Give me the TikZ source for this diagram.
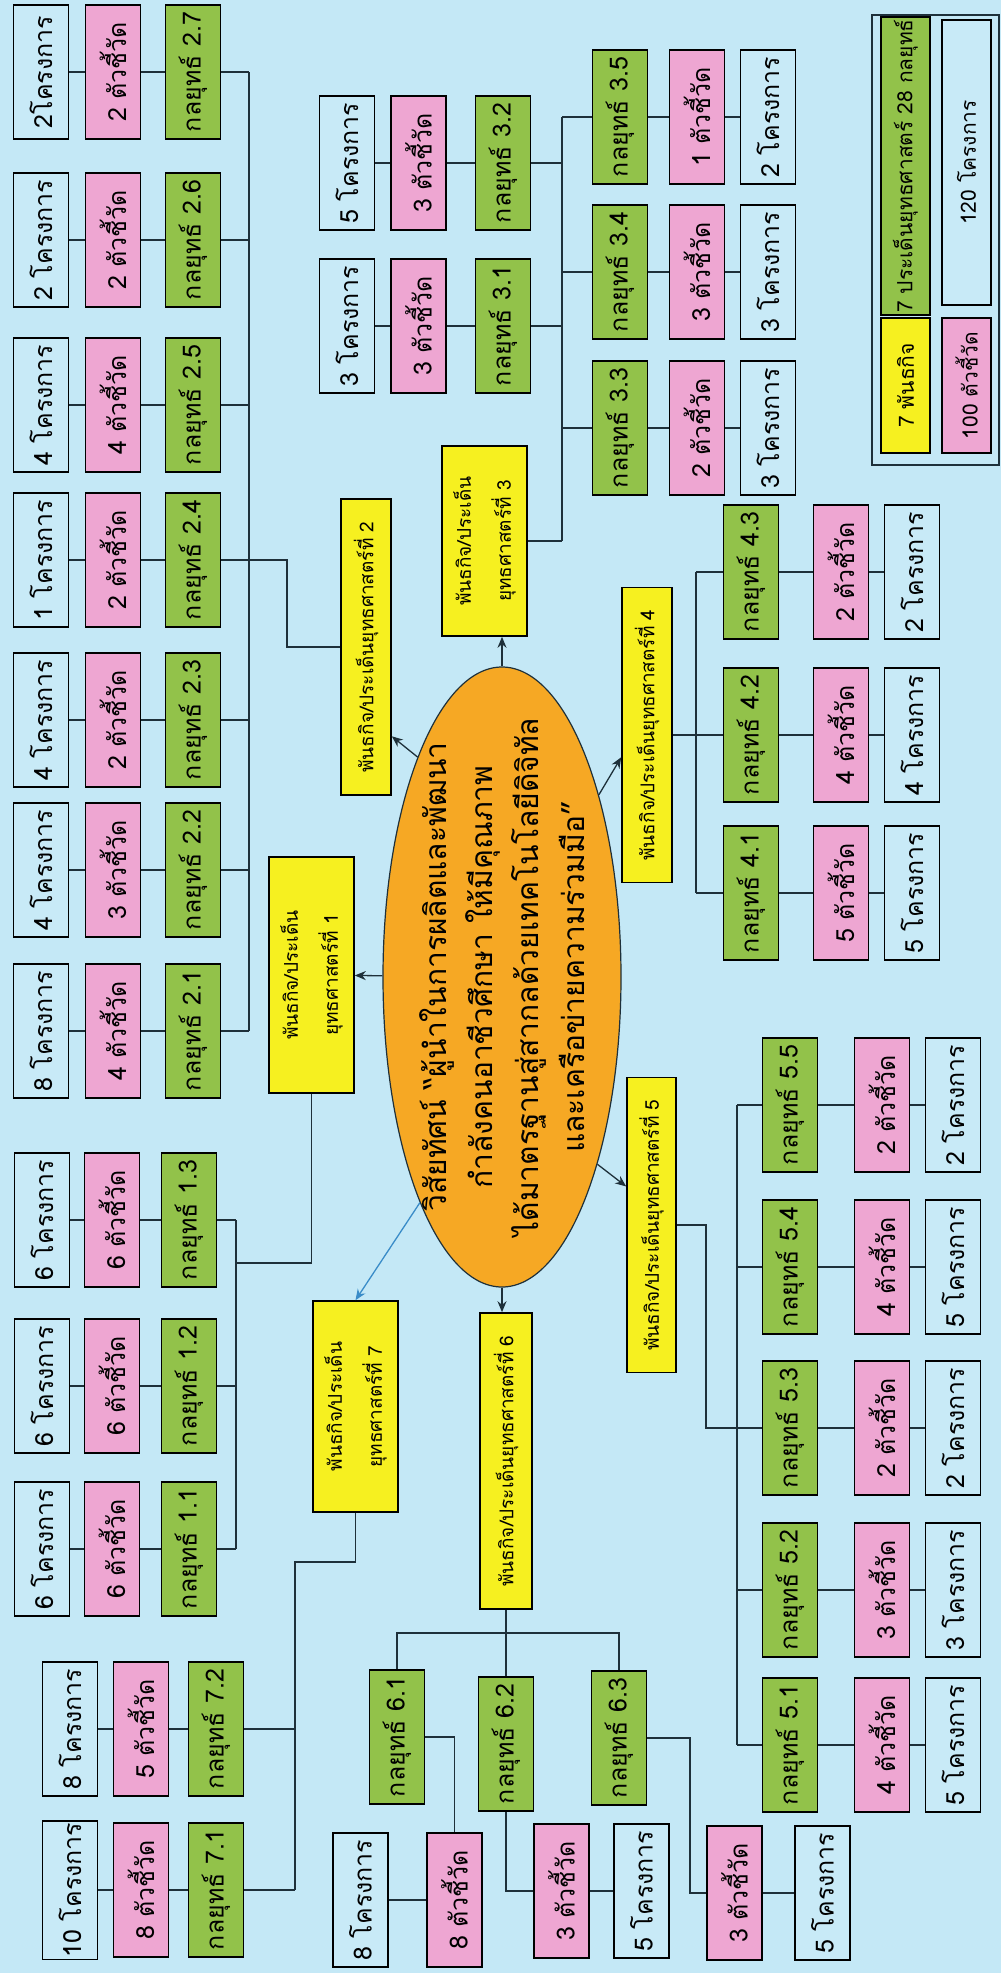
\documentclass[tikz,border=0pt]{standalone}
\usepackage{fontspec}
\newfontfamily\thai[Script=Thai]{Loma}
\usetikzlibrary{shapes.geometric,arrows.meta,calc}

\definecolor{bgblue}{RGB}{196,232,246}
\definecolor{projblue}{RGB}{200,234,247}
\definecolor{stratgreen}{RGB}{146,194,74}
\definecolor{kpipink}{RGB}{238,166,210}
\definecolor{missionyellow}{RGB}{246,240,32}
\definecolor{visorange}{RGB}{246,168,36}
\definecolor{linecol}{RGB}{30,48,58}
\definecolor{arrowblue}{RGB}{58,140,200}

\tikzset{
  box/.style={draw=black, line width=1.6pt, rotate=90, minimum width=134, minimum height=55, inner sep=2pt, font=\thai\fontsize{25}{29}\selectfont},
  strat/.style={box, fill=stratgreen},
  kpi/.style={box, fill=kpipink},
  proj/.style={box, fill=projblue},
  mission/.style={box, fill=missionyellow, align=center, font=\thai\fontsize{19}{40}\selectfont},
  legendtext/.style={font=\thai\fontsize{21}{25}\selectfont},
  link/.style={draw=linecol, line width=1.3pt},
  toyellow/.style={link, -{Stealth[length=11pt,width=9pt]}},
}

\begin{document}
\begin{tikzpicture}[x=1pt,y=-1pt]
% Background
\fill[bgblue] (0,0) rectangle (1001,1973);
\useasboundingbox (0,0) rectangle (1001,1973);

% Vision ellipse
\node[ellipse, draw=linecol, line width=1.2pt, fill=visorange, rotate=90, minimum width=620, minimum height=238, inner sep=0pt] (vis) at (502,977) {};
\node[rotate=90, align=center, font=\thai\fontsize{30}{46}\selectfont] (vistext) at (vis) {วิสัยทัศน์ “ผู้นำในการผลิตและพัฒนา\\กำลังคนอาชีวศึกษา ให้มีคุณภาพ\\ได้มาตรฐานสู่สากลด้วยเทคโนโลยีดิจิทัล\\และเครือข่ายความร่วมมือ”};

% Missions
\node[mission, minimum width=236, minimum height=85] (y1) at (311.5,975) {พันธกิจ/ประเด็น\\ยุทธศาสตร์ที่ 1};
\node[mission, minimum width=296, minimum height=50] (y2) at (366,647) {พันธกิจ/ประเด็นยุทธศาสตร์ที่ 2};
\node[mission, minimum width=190, minimum height=85] (y3) at (484.5,541) {พันธกิจ/ประเด็น\\ยุทธศาสตร์ที่ 3};
\node[mission, minimum width=295, minimum height=50] (y4) at (647,735) {พันธกิจ/ประเด็นยุทธศาสตร์ที่ 4};
\node[mission, minimum width=295, minimum height=49] (y5) at (651.5,1225) {พันธกิจ/ประเด็นยุทธศาสตร์ที่ 5};
\node[mission, minimum width=296, minimum height=52] (y6) at (506,1461) {พันธกิจ/ประเด็นยุทธศาสตร์ที่ 6};
\node[mission, minimum width=211, minimum height=85] (y7) at (355.5,1406.5) {พันธกิจ/ประเด็น\\ยุทธศาสตร์ที่ 7};

% Arrows from the vision
\draw[toyellow] (vis) -- (y1);
\draw[toyellow] (vis.21) -- ($(y2.south)!0.6!(y2.south west)$);
\draw[toyellow] (vis.east) -- (vis.east |- y3.west);
\draw[toyellow] (vis.332) -- ($(y4.north)!0.15!(y4.north west)$);
\draw[toyellow] (vis.207) -- ($(y5.north)!0.26!(y5.north east)$);
\draw[toyellow] (vis.west) -- (vis.west |- y6.east);
\draw[toyellow, draw=arrowblue] (vis.160) -- (y7.east);

% Mission 1
\coordinate (t1) at (236,1263);
\foreach \i/\y in {3/1220, 2/1386, 1/1549}{
  \node[strat] (g1\i) at (189,\y) {กลยุทธ์ 1.\i};
  \node[kpi] (k1\i) at (112,\y) {6 ตัวชี้วัด};
  \node[proj] (p1\i) at (42,\y) {6 โครงการ};
  \draw[link] (p1\i) -- (k1\i) -- (g1\i) -- (g1\i -| t1);
}
\draw[link] (y1) |- (t1);
\draw[link] (g13 -| t1) -- (g11 -| t1);

% Mission 2
\coordinate (t2) at (249,0);
\foreach \i/\y/\k/\p in {7/72/2/2โครงการ, 6/240/2/2 โครงการ, 5/405/4/4 โครงการ, 4/560/2/1 โครงการ, 3/720/2/4 โครงการ, 2/870/3/4 โครงการ, 1/1031/4/8 โครงการ}{
  \node[strat] (g2\i) at (193,\y) {กลยุทธ์ 2.\i};
  \node[kpi] (k2\i) at (113,\y) {\k\ ตัวชี้วัด};
  \node[proj] (p2\i) at (41,\y) {\p};
  \draw[link] (p2\i) -- (k2\i) -- (g2\i) -- (g2\i -| t2);
}
\coordinate (j2) at (287,560);
\draw[link] (y2) -| (j2) -- (j2 -| t2);
\draw[link] (g27 -| t2) -- (g21 -| t2);

% Mission 3
\coordinate (t3) at (562,0);
\foreach \i/\y/\k/\p in {2/163/3/5 โครงการ, 1/326/3/3 โครงการ}{
  \node[strat] (g3\i) at (503,\y) {กลยุทธ์ 3.\i};
  \node[kpi] (k3\i) at (418.5,\y) {\k\ ตัวชี้วัด};
  \node[proj] (p3\i) at (347,\y) {\p};
  \draw[link] (p3\i) -- (k3\i) -- (g3\i) -- (g3\i -| t3);
}
\foreach \i/\y/\k/\p in {5/117/1/2 โครงการ, 4/272/3/3 โครงการ, 3/428/2/3 โครงการ}{
  \node[strat] (g3\i) at (620,\y) {กลยุทธ์ 3.\i};
  \node[kpi] (k3\i) at (697,\y) {\k\ ตัวชี้วัด};
  \node[proj] (p3\i) at (768,\y) {\p};
  \draw[link] (g3\i -| t3) -- (g3\i) -- (k3\i) -- (p3\i);
}
\draw[link] (y3) -- (y3 -| t3);
\draw[link] (g35 -| t3) -- (y3 -| t3);

% Mission 4
\coordinate (t4) at (696,0);
\foreach \i/\y/\k/\p in {3/572/2/2 โครงการ, 2/735/4/4 โครงการ, 1/893/5/5 โครงการ}{
  \node[strat] (g4\i) at (751,\y) {กลยุทธ์ 4.\i};
  \node[kpi] (k4\i) at (841,\y) {\k\ ตัวชี้วัด};
  \node[proj] (p4\i) at (912,\y) {\p};
  \draw[link] (g4\i -| t4) -- (g4\i) -- (k4\i) -- (p4\i);
}
\draw[link] (y4) -- (y4 -| t4);
\draw[link] (g43 -| t4) -- (g41 -| t4);

% Mission 5
\coordinate (t5) at (737,0);
\foreach \i/\y/\k/\p in {5/1105/2/2 โครงการ, 4/1267/4/5 โครงการ, 3/1428/2/2 โครงการ, 2/1590/3/3 โครงการ, 1/1745/4/5 โครงการ}{
  \node[strat] (g5\i) at (790,\y) {กลยุทธ์ 5.\i};
  \node[kpi] (k5\i) at (882,\y) {\k\ ตัวชี้วัด};
  \node[proj] (p5\i) at (953,\y) {\p};
  \draw[link] (g5\i -| t5) -- (g5\i) -- (k5\i) -- (p5\i);
}
\coordinate (j5) at (706,1428);
\draw[link] (y5) -| (j5) -- (j5 -| t5);
\draw[link] (g55 -| t5) -- (g51 -| t5);

% Mission 6
\node[strat] (g61) at (397,1737) {กลยุทธ์ 6.1};
\node[kpi] (k61) at (454.5,1900) {8 ตัวชี้วัด};
\node[proj] (p61) at (360.5,1900) {8 โครงการ};
\node[strat] (g62) at (506,1744) {กลยุทธ์ 6.2};
\node[kpi] (k62) at (561.5,1891) {3 ตัวชี้วัด};
\node[proj] (p62) at (641.5,1891) {5 โครงการ};
\node[strat] (g63) at (619,1738) {กลยุทธ์ 6.3};
\node[kpi] (k63) at (734.5,1893) {3 ตัวชี้วัด};
\node[proj] (p63) at (822.5,1893) {5 โครงการ};
\coordinate (b6) at (506,1633);
\coordinate (j6) at (690,1893);
\draw[link] (y6) -- (g62);
\draw[link] (g61) |- (b6) -| (g63);
\draw[link] (g61) -| (k61) -- (p61);
\draw[link] (g62) |- (k62) -- (p62);
\draw[link] (g63) -| (j6) -- (k63) -- (p63);

% Mission 7
\coordinate (t7) at (295,1562);
\foreach \i/\y/\k/\p in {2/1729/5/8 โครงการ, 1/1890/8/10 โครงการ}{
  \node[strat] (g7\i) at (216,\y) {กลยุทธ์ 7.\i};
  \node[kpi] (k7\i) at (141,\y) {\k\ ตัวชี้วัด};
  \node[proj] (p7\i) at (70,\y) {\p};
  \draw[link] (p7\i) -- (k7\i) -- (g7\i) -- (g7\i -| t7);
}
\draw[link] (y7) |- (t7) -- (g71 -| t7);

% Legend
\draw[draw=linecol, line width=1.4pt] (872,15) rectangle (999,465);
\node[strat, legendtext, minimum width=286, minimum height=49] (lg) at (905.5,166) {7 ประเด็นยุทธศาสตร์ 28 กลยุทธ์};
\node[proj, legendtext, minimum width=285, minimum height=49] (lp) at (966.5,162.5) {120 โครงการ};
\node[mission, legendtext, minimum width=135, minimum height=49] (ly) at (905.5,385.5) {7 พันธกิจ};
\node[kpi, legendtext, minimum width=135, minimum height=49] (lk) at (966.5,385.5) {100 ตัวชี้วัด};
\end{tikzpicture}
\end{document}
